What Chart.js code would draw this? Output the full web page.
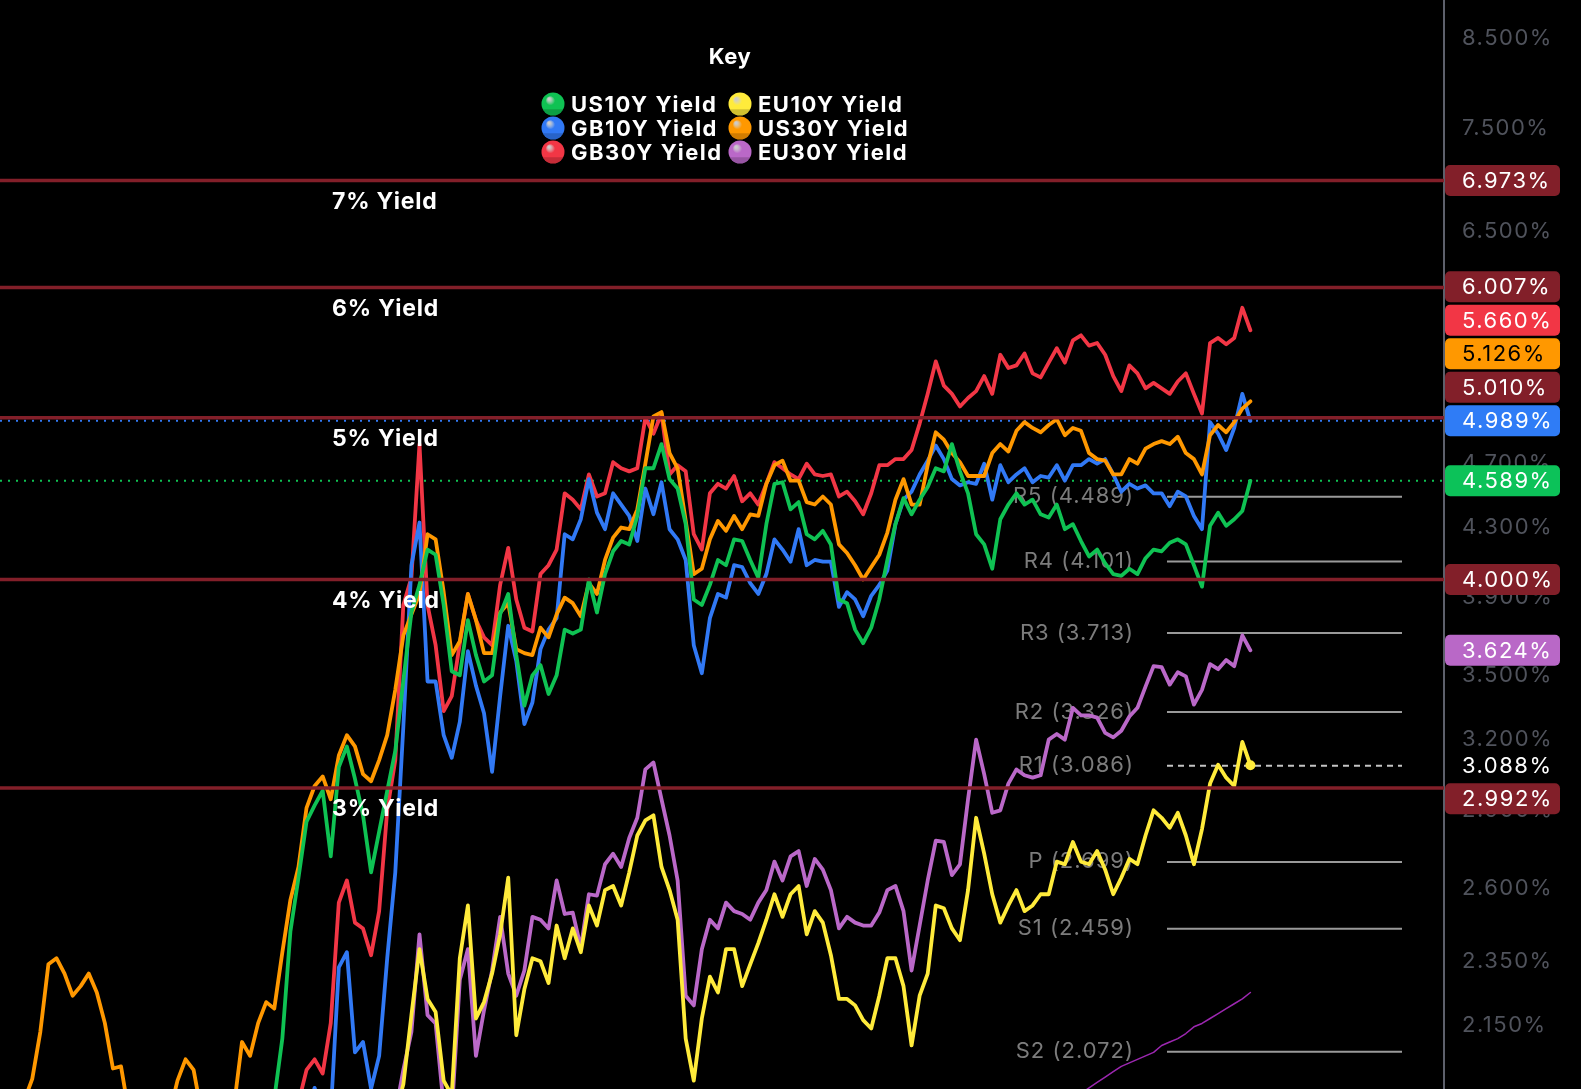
<!DOCTYPE html>
<html>
<head>
<meta charset="utf-8">
<title>Bond yields</title>
<script src="https://cdn.jsdelivr.net/npm/chart.js@4.4.1/dist/chart.umd.min.js"></script>
<style>
  html, body { margin: 0; padding: 0; background: #000; }
  #wrap { width: 1581px; height: 1089px; position: relative; }
</style>
</head>
<body>
<div id="wrap"><canvas id="yieldChart"></canvas></div>
<script>
// prefix a series with empty slots for the weeks before it shows up
const lead = (n, vals) => Array(n).fill(null).concat(vals);
const last = (arr) => arr[arr.length - 1];

// one label per weekly bar, the tail is empty space right of the last bar
const weeks = Array.from({ length: 180 }, (_, i) => 'W' + (i + 1));

const us30y = [1.86,1.87,1.90,1.935,1.995,2.13,2.34,2.36,2.31,2.24,
  2.27,2.31,2.25,2.156,2.024,2.03,1.90,1.85,1.83,1.84,
  1.86,1.90,1.99,2.05,2.02,1.90,1.85,1.84,1.86,1.92,
  2.10,2.06,2.156,2.22,2.20,2.38,2.56,2.68,2.91,3.00,
  3.04,2.945,3.13,3.22,3.17,3.05,3.02,3.11,3.22,3.43,
  3.70,3.81,3.92,4.26,4.23,3.93,3.60,3.67,3.92,3.78,
  3.61,3.61,3.82,3.87,3.63,3.61,3.60,3.74,3.69,3.81,
  3.90,3.87,3.80,3.98,3.92,4.11,4.24,4.30,4.29,4.41,
  4.70,5.02,5.05,4.77,4.67,4.34,4.03,4.06,4.23,4.34,
  4.28,4.37,4.29,4.38,4.37,4.57,4.69,4.72,4.59,4.59,
  4.455,4.44,4.49,4.44,4.20,4.15,4.08,4.00,4.07,4.14,
  4.27,4.47,4.60,4.44,4.44,4.69,4.91,4.86,4.77,4.71,
  4.62,4.62,4.62,4.77,4.83,4.78,4.92,4.98,4.94,4.91,
  4.96,5.00,4.89,4.94,4.92,4.77,4.73,4.72,4.63,4.63,
  4.73,4.70,4.80,4.83,4.85,4.83,4.88,4.77,4.73,4.63,
  4.89,4.96,4.91,4.98,5.075,5.126];

const us10y = lead(32, [1.85,1.88,1.94,2.11,2.45,2.64,2.855,2.92,
  2.98,2.72,3.08,3.17,3.03,2.88,2.66,2.815,2.98,3.15,
  3.475,3.82,3.97,4.17,4.14,3.86,3.52,3.50,3.78,3.60,
  3.47,3.50,3.81,3.92,3.60,3.355,3.50,3.55,3.41,3.50,
  3.73,3.71,3.73,4.00,3.82,4.03,4.16,4.22,4.20,4.37,
  4.67,4.67,4.83,4.60,4.54,4.32,3.89,3.86,3.97,4.11,
  4.08,4.23,4.22,4.11,4.01,4.32,4.57,4.58,4.41,4.455,
  4.26,4.23,4.28,4.20,3.89,3.87,3.73,3.66,3.74,3.89,
  4.11,4.32,4.48,4.38,4.47,4.55,4.67,4.65,4.83,4.65,
  4.51,4.26,4.20,4.06,4.35,4.44,4.51,4.44,4.47,4.38,
  4.36,4.44,4.29,4.32,4.22,4.13,4.17,4.09,4.03,4.02,
  4.06,4.03,4.12,4.17,4.16,4.21,4.23,4.20,4.08,3.96,
  4.31,4.39,4.31,4.35,4.40,4.589]);

const gb30y = lead(36, [1.85,1.93,2.02,2.05,
  2.01,2.156,2.55,2.63,2.48,2.46,2.37,2.52,2.90,3.11,
  3.86,4.01,4.83,3.86,3.65,3.33,3.40,3.66,3.92,3.78,
  3.69,3.65,3.97,4.18,3.89,3.74,3.72,4.03,4.08,4.17,
  4.51,4.47,4.41,4.63,4.49,4.51,4.71,4.67,4.65,4.67,
  5.01,4.90,5.04,4.63,4.69,4.65,4.26,4.17,4.51,4.57,
  4.54,4.62,4.46,4.51,4.44,4.57,4.71,4.67,4.63,4.60,
  4.70,4.63,4.62,4.63,4.49,4.52,4.46,4.38,4.51,4.69,
  4.69,4.73,4.73,4.79,4.97,5.18,5.42,5.24,5.18,5.09,
  5.15,5.20,5.31,5.18,5.47,5.37,5.39,5.48,5.33,5.30,
  5.41,5.52,5.41,5.58,5.62,5.54,5.56,5.47,5.31,5.20,
  5.39,5.33,5.22,5.26,5.22,5.18,5.27,5.33,5.18,5.04,
  5.56,5.60,5.55,5.60,5.84,5.66]);

const gb10y = lead(38, [1.90,1.97,
  1.90,1.90,2.33,2.38,2.07,2.10,1.968,2.06,2.36,2.66,
  3.26,4.08,4.33,3.47,3.47,3.22,3.12,3.28,3.62,3.45,
  3.32,3.06,3.40,3.75,3.57,3.27,3.37,3.63,3.73,3.79,
  4.26,4.23,4.35,4.60,4.39,4.29,4.51,4.44,4.37,4.22,
  4.54,4.38,4.58,4.29,4.23,4.11,3.65,3.51,3.79,3.92,
  3.90,4.08,4.07,3.98,3.92,4.03,4.23,4.17,4.10,4.29,
  4.08,4.11,4.10,4.10,3.85,3.93,3.89,3.80,3.91,3.97,
  4.05,4.32,4.47,4.52,4.63,4.72,4.82,4.73,4.60,4.56,
  4.58,4.57,4.70,4.47,4.69,4.58,4.63,4.67,4.58,4.62,
  4.61,4.69,4.59,4.69,4.69,4.73,4.70,4.73,4.63,4.52,
  4.57,4.54,4.56,4.51,4.51,4.43,4.52,4.49,4.37,4.29,
  4.98,4.90,4.79,4.94,5.18,4.989]);

const eu10y = lead(49, [1.90,
  1.98,2.18,2.39,2.23,2.19,1.99,1.95,2.36,2.54,2.17,
  2.22,2.31,2.44,2.64,2.12,2.26,2.36,2.35,2.28,2.47,
  2.36,2.46,2.38,2.54,2.47,2.595,2.61,2.54,2.66,2.80,
  2.86,2.88,2.68,2.595,2.49,2.11,1.99,2.17,2.30,2.25,
  2.39,2.39,2.27,2.34,2.41,2.49,2.58,2.50,2.58,2.61,
  2.44,2.52,2.48,2.37,2.23,2.23,2.21,2.165,2.14,2.24,
  2.36,2.36,2.27,2.09,2.24,2.31,2.54,2.53,2.46,2.42,
  2.595,2.87,2.73,2.58,2.48,2.54,2.595,2.52,2.54,2.58,
  2.58,2.70,2.69,2.775,2.70,2.69,2.74,2.67,2.58,2.64,
  2.71,2.69,2.80,2.90,2.87,2.83,2.89,2.80,2.69,2.825,
  3.01,3.09,3.035,3.00,3.19,3.088]);

const eu30y = lead(49, [1.90,
  2.02,2.13,2.44,2.18,2.155,1.92,1.90,2.29,2.39,2.06,
  2.195,2.32,2.50,2.31,2.24,2.32,2.50,2.49,2.46,2.63,
  2.51,2.515,2.395,2.58,2.575,2.69,2.73,2.68,2.79,2.87,
  3.07,3.10,2.945,2.80,2.63,2.24,2.21,2.39,2.49,2.46,
  2.55,2.52,2.51,2.49,2.55,2.595,2.70,2.63,2.72,2.74,
  2.61,2.71,2.67,2.595,2.46,2.50,2.48,2.47,2.47,2.515,
  2.595,2.61,2.52,2.32,2.47,2.63,2.78,2.775,2.65,2.69,
  2.945,3.20,3.05,2.89,2.90,3.01,3.07,3.045,3.035,3.045,
  3.20,3.225,3.20,3.345,3.31,3.31,3.30,3.23,3.21,3.24,
  3.305,3.345,3.445,3.545,3.54,3.455,3.515,3.495,3.36,3.43,
  3.555,3.53,3.575,3.545,3.70,3.624]);

// thin violet trend line at the bottom right
const trendLine = lead(130, [1.90,1.92,1.93,1.945,1.955,1.97,1.985,2.00,2.015,2.03,
  2.04,2.05,2.06,2.07,2.09,2.10,2.11,2.125,2.145,2.155,
  2.17,2.185,2.20,2.215,2.23,2.25]);

const seriesNames = ['US10Y Yield', 'GB10Y Yield', 'GB30Y Yield', 'EU10Y Yield', 'US30Y Yield', 'EU30Y Yield'];
const seriesColors = ['#0fc253', '#3179f5', '#f23645', '#ffeb3b', '#ff9800', '#ba68c8'];

const axisTicks = [8.5, 7.5, 6.5, 5.5, 4.7, 4.3, 3.9, 3.5, 3.2, 2.9, 2.6, 2.35, 2.15];

const yieldLevels = [6.973, 6.007, 5.010, 4.000, 2.992];
const yieldLabels = ['7% Yield', '6% Yield', '5% Yield', '4% Yield', '3% Yield'];

const pivotNames = ['R5', 'R4', 'R3', 'R2', 'R1', 'P', 'S1', 'S2'];
const pivotValues = [4.489, 4.101, 3.713, 3.326, 3.086, 2.699, 2.459, 2.072];

const lineRed = '#821f29';

// price boxes on the right axis
const axisMarks = [
  ...yieldLevels.map(v => ({ value: v, bg: lineRed, fg: '#fff' })),
  { value: last(gb30y), bg: seriesColors[2], fg: '#fff' },
  { value: last(us30y), bg: seriesColors[4], fg: '#000' },
  { value: last(gb10y), bg: '#2f7cf6', fg: '#fff' },
  { value: last(us10y), bg: '#0cc259', fg: '#fff' },
  { value: last(eu30y), bg: '#b968c7', fg: '#fff' },
  { value: last(eu10y), bg: null, fg: '#fff', fixed: true }
];

function dot(ctx, cx, cy, r, color) {
  const g = ctx.createRadialGradient(cx - r * 0.35, cy - r * 0.45, 1, cx, cy, r);
  g.addColorStop(0, 'rgba(255,255,255,0.8)');
  g.addColorStop(0.35, color);
  g.addColorStop(1, color);
  ctx.fillStyle = g;
  ctx.beginPath();
  ctx.arc(cx, cy, r, 0, Math.PI * 2);
  ctx.fill();
  ctx.fillStyle = 'rgba(0,0,0,0.18)';
  ctx.beginPath();
  ctx.arc(cx, cy, r, 0.15 * Math.PI, 0.85 * Math.PI);
  ctx.fill();
}

const overlay = {
  id: 'overlay',
  beforeDraw(chart) {
    // wider tracking for the axis numbers
    chart.ctx.letterSpacing = '1.5px';
  },
  beforeDatasetsDraw(chart) {
    const { ctx, chartArea: area, scales: { y } } = chart;
    ctx.save();
    // dotted last-price lines
    [[last(gb10y), '#3179f5'], [last(us10y), '#0fc253']].forEach(([v, c]) => {
      const py = y.getPixelForValue(v);
      ctx.strokeStyle = c;
      ctx.lineWidth = 2;
      ctx.setLineDash([2, 6]);
      ctx.beginPath(); ctx.moveTo(area.left, py); ctx.lineTo(area.right, py); ctx.stroke();
    });
    // pivot levels
    ctx.font = '22px Inter';
    ctx.letterSpacing = '1px';
    ctx.textAlign = 'right';
    ctx.textBaseline = 'middle';
    const x0 = area.right - 277, x1 = area.right - 42;
    pivotValues.forEach((v, i) => {
      const py = y.getPixelForValue(v);
      const dashed = pivotNames[i] === 'R1';
      ctx.strokeStyle = dashed ? '#c4c4c4' : '#9a9a9a';
      ctx.setLineDash(dashed ? [6, 5] : []);
      ctx.lineWidth = 2;
      ctx.beginPath(); ctx.moveTo(x0, py); ctx.lineTo(x1, py); ctx.stroke();
      ctx.fillStyle = '#7c7c7c';
      ctx.fillText(pivotNames[i] + ' (' + v.toFixed(3) + ')', x0 - 33, py);
    });
    ctx.restore();
  },
  afterDatasetsDraw(chart) {
    const { ctx, chartArea: area, scales: { y } } = chart;
    ctx.save();
    // yield level lines with their captions
    ctx.setLineDash([]);
    ctx.font = 'bold 23px Inter';
    ctx.letterSpacing = '0.8px';
    ctx.textAlign = 'left';
    ctx.textBaseline = 'middle';
    yieldLevels.forEach((v, i) => {
      const py = y.getPixelForValue(v);
      ctx.strokeStyle = lineRed;
      ctx.lineWidth = 3.5;
      ctx.beginPath(); ctx.moveTo(area.left, py); ctx.lineTo(area.right, py); ctx.stroke();
      ctx.fillStyle = '#fff';
      ctx.fillText(yieldLabels[i], 332, py + 21.5);
    });

    // key
    ctx.font = 'bold 22px Inter';
    ctx.letterSpacing = '0.5px';
    ctx.textAlign = 'center';
    ctx.fillText('Key', 730, 57);
    ctx.textAlign = 'left';
    ctx.letterSpacing = '1.5px';
    seriesNames.forEach((name, i) => {
      const col = Math.floor(i / 3), row = i % 3;
      const cx = col ? 740 : 553;
      const cy = 104 + row * 24;
      dot(ctx, cx, cy, 11.5, seriesColors[i]);
      ctx.fillStyle = '#fff';
      ctx.fillText(name, cx + 18, cy + 1);
    });
    ctx.restore();
  },
  afterDraw(chart) {
    const { ctx, chartArea: area, scales: { y } } = chart;
    const h = 33.5;
    const boxes = axisMarks.map(m => ({ ...m, py: y.getPixelForValue(m.value) }))
      .sort((a, b) => a.py - b.py);
    for (let i = boxes.length - 2; i >= 0; i--) {
      if (!boxes[i].fixed && boxes[i].py > boxes[i + 1].py - h) boxes[i].py = boxes[i + 1].py - h;
    }
    for (let i = 1; i < boxes.length; i++) {
      if (!boxes[i].fixed && boxes[i].py < boxes[i - 1].py + h) boxes[i].py = boxes[i - 1].py + h;
    }
    ctx.save();
    ctx.font = '22px Inter';
    ctx.letterSpacing = '1.5px';
    ctx.textAlign = 'left';
    ctx.textBaseline = 'middle';
    boxes.forEach(b => {
      if (b.bg) {
        ctx.fillStyle = b.bg;
        ctx.beginPath();
        ctx.roundRect(area.right + 1, b.py - 15.5, 115, 31, 5);
        ctx.fill();
      }
      ctx.fillStyle = b.fg;
      ctx.fillText(b.value.toFixed(3) + '%', area.right + 18, b.py + 1);
    });
    ctx.restore();
  }
};

const lineSet = (data, color, order) => ({
  data, borderColor: color, backgroundColor: color, order,
  borderWidth: 3.8, pointRadius: 0, spanGaps: false
});

const ctx = document.getElementById('yieldChart').getContext('2d');
const chart = new Chart(ctx, {
  type: 'line',
  data: {
    labels: weeks,
    datasets: [
      Object.assign(lineSet(eu10y, seriesColors[3], 0), {
        pointRadius: (c) => (c.dataIndex === eu10y.length - 1 ? 5 : 0),
        pointBorderWidth: 0
      }),
      lineSet(us10y, seriesColors[0], 1),
      lineSet(us30y, seriesColors[4], 2),
      lineSet(gb10y, seriesColors[1], 3),
      lineSet(gb30y, seriesColors[2], 4),
      lineSet(eu30y, seriesColors[5], 5),
      Object.assign(lineSet(trendLine, '#9c27b0', 6), { borderWidth: 1.5 })
    ]
  },
  options: {
    responsive: true,
    maintainAspectRatio: false,
    animation: false,
    layout: { padding: 0, autoPadding: false },
    plugins: { legend: { display: false }, tooltip: { enabled: false } },
    elements: { line: { tension: 0, borderJoinStyle: 'round', borderCapStyle: 'round' } },
    scales: {
      x: { display: false },
      y: {
        type: 'logarithmic',
        position: 'right',
        min: 1.967,
        max: 8.966,
        afterBuildTicks: (scale) => { scale.ticks = axisTicks.map(v => ({ value: v })); },
        afterFit: (scale) => {
          scale.width = 137;
          // let the plot run to the top and bottom edges of the picture
          scale.paddingTop = 0;
          scale.paddingBottom = 0;
        },
        grid: { display: false, drawTicks: false, tickLength: 0 },
        border: { display: true, color: '#5d606b', width: 2 },
        ticks: {
          autoSkip: false,
          padding: 18,
          color: '#50535c',
          font: { family: 'Inter', size: 22 },
          callback: (v) => Number(v).toFixed(3) + '%'
        }
      }
    }
  },
  plugins: [overlay]
});
</script>
</body>
</html>
